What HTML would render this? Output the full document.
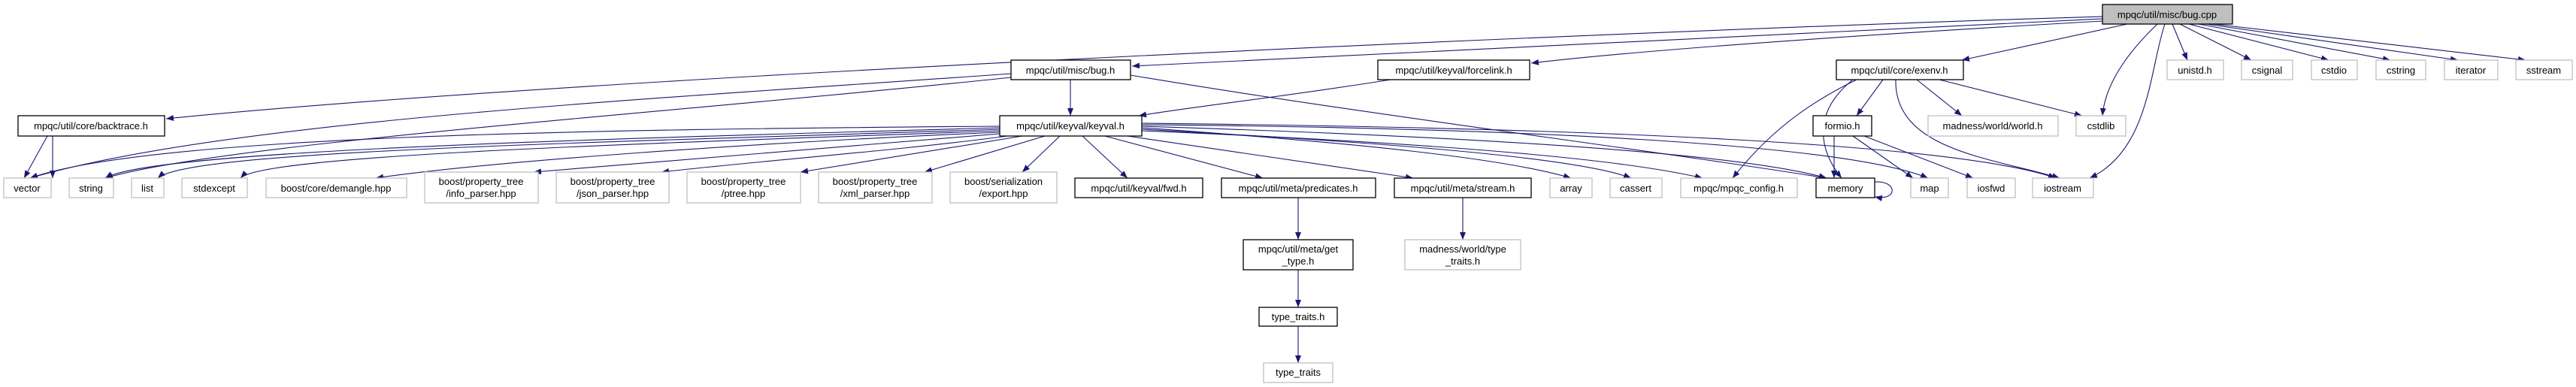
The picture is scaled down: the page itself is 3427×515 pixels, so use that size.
<!DOCTYPE html>
<html><head><meta charset="utf-8"><style>
html,body{margin:0;padding:0;background:#fff;}
svg{display:block;}
text{font-family:"Liberation Sans",sans-serif;font-size:13px;fill:#000;}
.b{fill:#fff;stroke:#000;stroke-width:1.3}
.g{fill:#fff;stroke:#bfbfbf;stroke-width:1.3}
.e{fill:none;stroke:#191970;stroke-width:1.1}
</style></head><body>
<svg width="3427" height="515" viewBox="0 0 3427 515" xmlns="http://www.w3.org/2000/svg">
<defs><marker id="a" markerWidth="10" markerHeight="8" refX="10" refY="4" orient="auto" markerUnits="userSpaceOnUse"><path d="M0,0 L10,4 L0,8 z" fill="#191970"/></marker></defs>
<g class="e" marker-end="url(#a)">
<path d="M2797,22 C2200,40 800,100 221,158"/>
<path d="M2797,25 C2300,50 1800,70 1506,88"/>
<path d="M2797,28 C2500,45 2200,65 2037,84"/>
<path d="M2830,32 C2750,50 2680,65 2610,80"/>
<path d="M2870,32 C2820,80 2800,120 2797,154"/>
<path d="M2880,32 C2860,90 2860,200 2780,237"/>
<path d="M2890,32 L2910,80"/>
<path d="M2900,32 L2995,80"/>
<path d="M2912,32 L3098,80"/>
<path d="M2925,32 L3180,80"/>
<path d="M2935,32 L3270,80"/>
<path d="M2945,32 L3360,80"/>
<path d="M1345,98 C900,130 300,160 40,237"/>
<path d="M1345,103 C900,150 300,190 140,237"/>
<path d="M1424,106 L1424,154"/>
<path d="M1504,100 C1800,150 2200,200 2430,237"/>
<path d="M1850,106 C1700,130 1600,140 1515,154"/>
<path d="M63,181 L32,237"/>
<path d="M70,181 L70,237"/>
<path d="M1330,168 C800,172 200,180 40,237"/>
<path d="M1330,170 C800,185 200,200 140,237"/>
<path d="M1330,172 C800,190 250,200 210,237"/>
<path d="M1330,174 C900,190 350,205 320,237"/>
<path d="M1330,176 C1000,190 650,215 500,237"/>
<path d="M1330,178 C1100,195 900,215 710,229"/>
<path d="M1340,181 C1200,200 1000,215 880,229"/>
<path d="M1360,181 L1065,229"/>
<path d="M1390,181 L1230,229"/>
<path d="M1410,181 L1360,229"/>
<path d="M1440,181 L1500,237"/>
<path d="M1470,181 L1680,237"/>
<path d="M1500,181 L1880,237"/>
<path d="M1519,170 C1800,190 2000,210 2090,237"/>
<path d="M1519,172 C1850,190 2100,210 2170,237"/>
<path d="M1519,174 C1900,190 2150,210 2265,237"/>
<path d="M1519,168 C1900,180 2300,200 2430,237"/>
<path d="M1519,166 C2000,170 2450,190 2565,237"/>
<path d="M1519,164 C2100,170 2600,190 2735,237"/>
<path d="M2505,106 L2470,154"/>
<path d="M2470,106 C2400,140 2350,180 2305,237"/>
<path d="M2465,106 C2410,150 2420,200 2450,237"/>
<path d="M2550,106 L2610,154"/>
<path d="M2580,106 L2770,154"/>
<path d="M2522,106 C2520,200 2650,210 2740,237"/>
<path d="M2440,181 L2440,237"/>
<path d="M2465,181 L2545,237"/>
<path d="M2480,181 L2625,237"/>
<path d="M2494,242 C2525,240 2525,268 2494,262"/>
<path d="M1727,263 L1727,319"/>
<path d="M1946,263 L1946,319"/>
<path d="M1727,359 L1727,409"/>
<path d="M1727,434 L1727,483"/>
</g>
<g>
<rect x="2797" y="6" width="173" height="26" fill="#bfbfbf" stroke="#000" stroke-width="1.3"/><text x="2883" y="24" text-anchor="middle">mpqc/util/misc/bug.cpp</text>
<rect class="b" x="1345" y="80" width="159" height="26"/><text x="1424" y="98" text-anchor="middle">mpqc/util/misc/bug.h</text>
<rect class="b" x="1833" y="80" width="202" height="26"/><text x="1934" y="98" text-anchor="middle">mpqc/util/keyval/forcelink.h</text>
<rect class="b" x="2443" y="80" width="169" height="26"/><text x="2527" y="98" text-anchor="middle">mpqc/util/core/exenv.h</text>
<rect class="g" x="2883" y="80" width="75" height="26"/><text x="2920" y="98" text-anchor="middle">unistd.h</text>
<rect class="g" x="2982" y="80" width="68" height="26"/><text x="3016" y="98" text-anchor="middle">csignal</text>
<rect class="g" x="3075" y="80" width="61" height="26"/><text x="3105" y="98" text-anchor="middle">cstdio</text>
<rect class="g" x="3161" y="80" width="66" height="26"/><text x="3194" y="98" text-anchor="middle">cstring</text>
<rect class="g" x="3252" y="80" width="71" height="26"/><text x="3287" y="98" text-anchor="middle">iterator</text>
<rect class="g" x="3347" y="80" width="75" height="26"/><text x="3384" y="98" text-anchor="middle">sstream</text>
<rect class="b" x="24" y="154" width="195" height="27"/><text x="121" y="172" text-anchor="middle">mpqc/util/core/backtrace.h</text>
<rect class="b" x="1330" y="154" width="189" height="27"/><text x="1424" y="172" text-anchor="middle">mpqc/util/keyval/keyval.h</text>
<rect class="b" x="2412" y="154" width="78" height="27"/><text x="2451" y="172" text-anchor="middle">formio.h</text>
<rect class="g" x="2565" y="154" width="173" height="27"/><text x="2651" y="172" text-anchor="middle">madness/world/world.h</text>
<rect class="g" x="2762" y="154" width="66" height="27"/><text x="2795" y="172" text-anchor="middle">cstdlib</text>
<rect class="g" x="5" y="237" width="63" height="26"/><text x="36" y="255" text-anchor="middle">vector</text>
<rect class="g" x="92" y="237" width="59" height="26"/><text x="121" y="255" text-anchor="middle">string</text>
<rect class="g" x="175" y="237" width="43" height="26"/><text x="196" y="255" text-anchor="middle">list</text>
<rect class="g" x="242" y="237" width="87" height="26"/><text x="285" y="255" text-anchor="middle">stdexcept</text>
<rect class="g" x="354" y="237" width="187" height="26"/><text x="447" y="255" text-anchor="middle">boost/core/demangle.hpp</text>
<rect class="g" x="565" y="229" width="151" height="41"/><text x="640" y="246" text-anchor="middle">boost/property_tree</text><text x="640" y="262" text-anchor="middle">/info_parser.hpp</text>
<rect class="g" x="740" y="229" width="150" height="41"/><text x="815" y="246" text-anchor="middle">boost/property_tree</text><text x="815" y="262" text-anchor="middle">/json_parser.hpp</text>
<rect class="g" x="914" y="229" width="151" height="41"/><text x="989" y="246" text-anchor="middle">boost/property_tree</text><text x="989" y="262" text-anchor="middle">/ptree.hpp</text>
<rect class="g" x="1089" y="229" width="151" height="41"/><text x="1164" y="246" text-anchor="middle">boost/property_tree</text><text x="1164" y="262" text-anchor="middle">/xml_parser.hpp</text>
<rect class="g" x="1264" y="229" width="142" height="41"/><text x="1335" y="246" text-anchor="middle">boost/serialization</text><text x="1335" y="262" text-anchor="middle">/export.hpp</text>
<rect class="b" x="1430" y="237" width="170" height="26"/><text x="1515" y="255" text-anchor="middle">mpqc/util/keyval/fwd.h</text>
<rect class="b" x="1625" y="237" width="205" height="26"/><text x="1727" y="255" text-anchor="middle">mpqc/util/meta/predicates.h</text>
<rect class="b" x="1855" y="237" width="182" height="26"/><text x="1946" y="255" text-anchor="middle">mpqc/util/meta/stream.h</text>
<rect class="g" x="2062" y="237" width="56" height="26"/><text x="2090" y="255" text-anchor="middle">array</text>
<rect class="g" x="2142" y="237" width="69" height="26"/><text x="2176" y="255" text-anchor="middle">cassert</text>
<rect class="g" x="2236" y="237" width="155" height="26"/><text x="2313" y="255" text-anchor="middle">mpqc/mpqc_config.h</text>
<rect class="b" x="2416" y="237" width="78" height="26"/><text x="2455" y="255" text-anchor="middle">memory</text>
<rect class="g" x="2542" y="237" width="50" height="26"/><text x="2567" y="255" text-anchor="middle">map</text>
<rect class="g" x="2617" y="237" width="64" height="26"/><text x="2649" y="255" text-anchor="middle">iosfwd</text>
<rect class="g" x="2704" y="237" width="81" height="26"/><text x="2744" y="255" text-anchor="middle">iostream</text>
<rect class="b" x="1654" y="319" width="146" height="40"/><text x="1727" y="336" text-anchor="middle">mpqc/util/meta/get</text><text x="1727" y="352" text-anchor="middle">_type.h</text>
<rect class="g" x="1869" y="319" width="154" height="40"/><text x="1946" y="336" text-anchor="middle">madness/world/type</text><text x="1946" y="352" text-anchor="middle">_traits.h</text>
<rect class="b" x="1675" y="409" width="104" height="25"/><text x="1727" y="426" text-anchor="middle">type_traits.h</text>
<rect class="g" x="1681" y="483" width="92" height="26"/><text x="1727" y="500" text-anchor="middle">type_traits</text>
</g>
</svg>
</body></html>
